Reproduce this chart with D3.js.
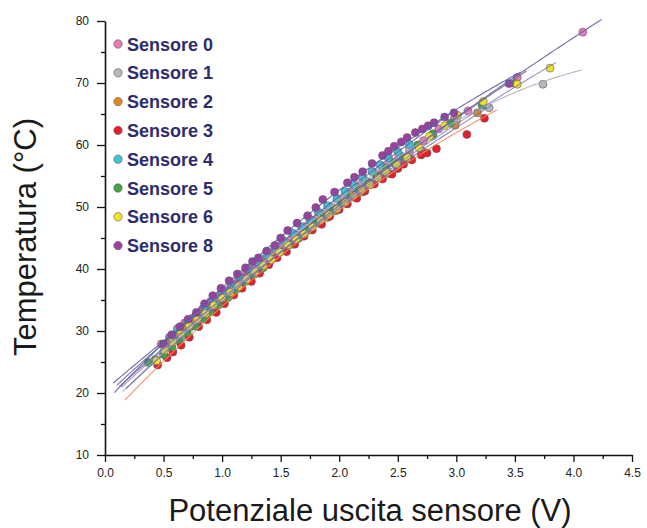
<!DOCTYPE html>
<head>
  <meta charset="utf-8">
  <script src="https://unpkg.com/d3@7/dist/d3.min.js"></script>
  <style>
    body {
      margin:0;
      background:#fff;
    }
  </style>
</head>

<body>
  <svg width="647" height="528"></svg>
  <script>
    // Sensori e colori della legenda
    var sensori = ["Sensore 0", "Sensore 1", "Sensore 2", "Sensore 3", "Sensore 4", "Sensore 5", "Sensore 6", "Sensore 8"];
    var colori = ["#e87ab8", "#b8b8b8", "#e0891c", "#e61e2a", "#45c2d2", "#3fa53c", "#f2e41e", "#a03fa0"];

    var sens0 = [[0.48,27.9],[0.55,29.0],[0.62,30.4],[0.68,31.3],[0.75,32.1],[0.83,33.5],[0.9,34.7],[0.98,35.7],[1.05,36.6],[1.13,38.0],[1.2,39.2],[1.28,40.1],[1.35,41.0],[1.43,42.5],[1.5,43.7],[1.58,44.6],[1.65,45.5],[1.73,46.8],[1.8,48.0],[1.88,48.9],[1.95,49.8],[2.03,51.1],[2.1,52.3],[2.18,53.3],[2.25,54.0],[2.33,55.3],[2.4,56.5],[2.5,57.6],[2.6,58.8],[2.72,60.7],[2.85,62.6],[2.98,64.1],[3.1,65.5],[3.52,70.9],[4.08,78.2]];
    var sens1 = [[0.5,26.6],[0.57,27.8],[0.65,29.0],[0.72,30.5],[0.8,31.9],[0.87,33.1],[0.95,34.3],[1.02,35.6],[1.1,37.1],[1.17,38.2],[1.25,39.3],[1.32,40.7],[1.4,42.1],[1.47,43.1],[1.55,44.2],[1.62,45.5],[1.7,46.8],[1.77,47.8],[1.85,48.8],[1.92,50.1],[2.0,51.3],[2.07,52.2],[2.15,53.1],[2.22,54.3],[2.3,55.5],[2.37,56.4],[2.45,57.2],[2.52,58.3],[2.6,59.4],[2.8,61.5],[3.0,63.9],[3.28,66.0],[3.74,69.8]];
    var sens2 = [[0.55,28.2],[0.62,29.3],[0.7,30.4],[0.77,31.8],[0.85,33.0],[0.92,34.0],[1.0,35.1],[1.07,36.4],[1.15,37.6],[1.22,38.7],[1.3,39.6],[1.37,40.9],[1.45,42.1],[1.52,43.1],[1.6,44.0],[1.67,45.2],[1.75,46.4],[1.82,47.4],[1.9,48.3],[1.97,49.4],[2.05,50.6],[2.12,51.6],[2.2,52.4],[2.27,53.6],[2.35,54.7],[2.42,55.4],[2.5,56.3],[2.6,57.8],[2.7,59.2],[2.99,63.2],[3.18,65.2]];
    var sens3 = [[0.45,24.5],[0.53,25.7],[0.58,26.6],[0.65,27.7],[0.72,29.0],[0.8,30.7],[0.87,31.8],[0.95,33.0],[1.02,34.4],[1.1,35.8],[1.17,36.9],[1.25,38.0],[1.32,39.3],[1.4,40.7],[1.47,41.8],[1.55,42.8],[1.62,44.0],[1.7,45.3],[1.77,46.3],[1.85,47.2],[1.92,48.5],[2.0,49.6],[2.07,50.5],[2.15,51.4],[2.22,52.6],[2.3,53.7],[2.37,54.5],[2.45,55.3],[2.5,56.2],[2.55,56.9],[2.62,57.6],[2.7,58.4],[2.75,58.7],[2.83,59.4],[3.09,61.7],[3.24,64.3]];
    var sens4 = [[0.5,27.9],[0.56,29.0],[0.62,30.2],[0.7,31.4],[0.78,32.6],[0.85,33.9],[0.92,35.1],[1.0,36.3],[1.08,37.4],[1.15,38.7],[1.22,40.0],[1.3,41.1],[1.38,42.2],[1.45,43.4],[1.52,44.6],[1.6,45.8],[1.68,46.8],[1.75,48.0],[1.82,49.2],[1.9,50.2],[1.98,51.3],[2.05,52.5],[2.12,53.6],[2.2,54.7],[2.28,55.7],[2.35,56.8],[2.42,57.9],[2.5,58.9],[2.6,60.1]];
    var sens5 = [[0.37,24.9],[0.43,25.4],[0.5,26.2],[0.57,27.4],[0.63,28.6],[0.7,29.7],[0.77,30.8],[0.84,32.0],[0.9,33.1],[0.97,34.2],[1.05,35.4],[1.12,36.7],[1.2,38.0],[1.27,39.1],[1.35,40.2],[1.42,41.5],[1.5,42.8],[1.57,43.9],[1.65,44.9],[1.72,46.1],[1.8,47.4],[1.87,48.4],[1.95,49.4],[2.02,50.6],[2.1,51.9],[2.17,52.8],[2.25,53.8],[2.32,55.0],[2.4,56.2],[2.47,57.1],[2.55,58.0],[2.67,60.0],[2.8,61.8],[2.95,63.5],[3.22,66.4],[3.5,69.9]];
    var sens6 = [[0.44,25.2],[0.51,26.9],[0.58,28.2],[0.65,29.5],[0.72,30.8],[0.79,31.8],[0.86,32.8],[0.93,34.1],[1.0,35.3],[1.07,36.2],[1.14,37.2],[1.21,38.4],[1.28,39.6],[1.35,40.6],[1.42,41.5],[1.49,42.7],[1.56,43.9],[1.63,44.8],[1.7,45.7],[1.77,46.8],[1.84,47.9],[1.91,48.8],[1.98,49.7],[2.05,50.8],[2.12,51.9],[2.19,52.8],[2.26,53.6],[2.33,54.7],[2.4,55.7],[2.49,56.9],[2.58,58.0],[2.68,59.6],[2.77,61.4],[2.9,63.1],[3.01,64.8],[3.23,67.0],[3.52,69.8],[3.8,72.4]];
    var sens8 = [[0.5,27.9],[0.57,29.4],[0.64,30.7],[0.71,31.9],[0.78,33.0],[0.85,34.4],[0.92,35.7],[0.99,36.9],[1.06,38.1],[1.13,39.2],[1.2,40.2],[1.26,41.2],[1.31,41.8],[1.38,42.9],[1.45,43.8],[1.5,45.0],[1.56,46.2],[1.64,47.4],[1.73,48.6],[1.8,49.9],[1.86,51.2],[1.96,52.4],[2.07,53.9],[2.13,54.8],[2.2,55.7],[2.28,57.0],[2.37,58.3],[2.42,59.0],[2.47,59.8],[2.53,60.5],[2.58,61.2],[2.65,62.0],[2.71,62.6],[2.76,63.1],[2.81,63.6],[2.9,64.5],[2.98,65.2],[3.45,69.9]];
    var misure = [sens0, sens1, sens2, sens3, sens4, sens5, sens6, sens8];

    // Curve di fit T = a + bV + cV^2 + dV^3 e intervallo
    var fitA = [20.5, 17.5, 19.0, 15.5, 19.5, 17.5, 18.5, 18.5];
    var fitB = [16.0, 18.2, 17.0, 20.0, 17.5, 18.0, 17.5, 19.8];
    var fitC = [-0.45, -0.2, -0.8, -1.5, -0.7, -0.8, -0.85, -1.35];
    var fitD = [0, -0.24, 0, 0, 0, 0, 0, 0];
    var fitDa = [0.07, 0.15, 0.12, 0.17, 0.10, 0.18, 0.14, 0.08];
    var fitA_ = [4.24, 4.07, 3.3, 3.35, 3.0, 3.6, 3.85, 3.55];
    var coloriFit = ["#625ca4", "#aeaec2", "#7a74b0", "#f08a5a", "#6a64aa", "#6e68a8", "#8c88bc", "#5e58a0"];

    var xTicks = [0, 0.5, 1, 1.5, 2, 2.5, 3, 3.5, 4, 4.5];
    var yTicks = [10, 20, 30, 40, 50, 60, 70, 80];

    var svg = d3.select("svg");
    var x = d3.scaleLinear().domain([0, 4.5]).range([105, 632]);
    var y = d3.scaleLinear().domain([10, 80]).range([455, 21]);

    // Assi con tacche minori
    var minX = d3.range(0.25, 4.5, 0.5);
    var minY = d3.range(15, 80, 10);

    svg.append("g")
      .attr("transform", "translate(0,455)")
      .call(d3.axisBottom(x).tickValues(minX).tickSize(4).tickFormat(""))
      .call(function (g) { g.select(".domain").remove(); });
    svg.append("g")
      .attr("transform", "translate(0,455)")
      .call(d3.axisBottom(x).tickValues(xTicks).tickSize(7).tickPadding(6).tickSizeOuter(0).tickFormat(d3.format(".1f")));

    svg.append("g")
      .attr("transform", "translate(105,0)")
      .call(d3.axisLeft(y).tickValues(minY).tickSize(4).tickFormat(""))
      .call(function (g) { g.select(".domain").remove(); });
    svg.append("g")
      .attr("transform", "translate(105,0)")
      .call(d3.axisLeft(y).tickValues(yTicks).tickSize(8).tickPadding(8).tickSizeOuter(0));

    svg.selectAll(".tick line").attr("stroke", "#111").attr("stroke-width", 1.3);
    svg.selectAll(".domain").attr("stroke", "#111").attr("stroke-width", 1.6);
    svg.selectAll(".tick text")
      .attr("font-family", "'Liberation Sans', Arial, sans-serif")
      .attr("font-size", 12)
      .attr("fill", "#222");

    // Punti
    misure.forEach(function (pts, i) {
      svg.append("g").selectAll("circle")
        .data(pts)
        .enter().append("circle")
          .attr("cx", function (d) { return x(d[0]); })
          .attr("cy", function (d) { return y(d[1]); })
          .attr("r", 4)
          .attr("fill", colori[i])
          .attr("stroke", "#5a5a6a")
          .attr("stroke-width", 0.6);
    });

    // Curve di fit
    var line = d3.line()
      .x(function (d) { return x(d[0]); })
      .y(function (d) { return y(d[1]); });
    sensori.forEach(function (s, i) {
      var vv = d3.range(fitDa[i], fitA_[i], 0.02).concat([fitA_[i]]);
      var curva = vv.map(function (v) {
        return [v, fitA[i] + fitB[i] * v + fitC[i] * v * v + fitD[i] * v * v * v];
      });
      svg.append("path")
        .datum(curva)
        .attr("d", line)
        .attr("fill", "none")
        .attr("stroke", coloriFit[i])
        .attr("stroke-width", 1.1)
        .attr("opacity", 0.9);
    });

    // Legenda
    var leg = svg.append("g").selectAll("g")
      .data(sensori)
      .enter().append("g")
        .attr("transform", function (d, i) { return "translate(118," + (44 + i * 28.8) + ")"; });
    leg.append("circle")
      .attr("r", 4.2)
      .attr("fill", function (d, i) { return colori[i]; })
      .attr("stroke", "#5a5a6a")
      .attr("stroke-width", 0.6);
    leg.append("text")
      .attr("x", 9)
      .attr("y", 6.5)
      .attr("font-family", "'Liberation Sans', Arial, sans-serif")
      .attr("font-weight", "bold")
      .attr("font-size", 18)
      .attr("fill", "#2e2c6c")
      .text(function (d) { return d; });

    // Titoli degli assi
    svg.append("text")
      .attr("x", 370)
      .attr("y", 521)
      .attr("text-anchor", "middle")
      .attr("font-family", "'Liberation Sans', Arial, sans-serif")
      .attr("font-size", 31)
      .attr("fill", "#1a1a1a")
      .text("Potenziale uscita sensore (V)");

    svg.append("text")
      .attr("transform", "translate(36,237) rotate(-90)")
      .attr("text-anchor", "middle")
      .attr("font-family", "'Liberation Sans', Arial, sans-serif")
      .attr("font-size", 31)
      .attr("fill", "#1a1a1a")
      .text("Temperatura (°C)");
  </script>
</body>
